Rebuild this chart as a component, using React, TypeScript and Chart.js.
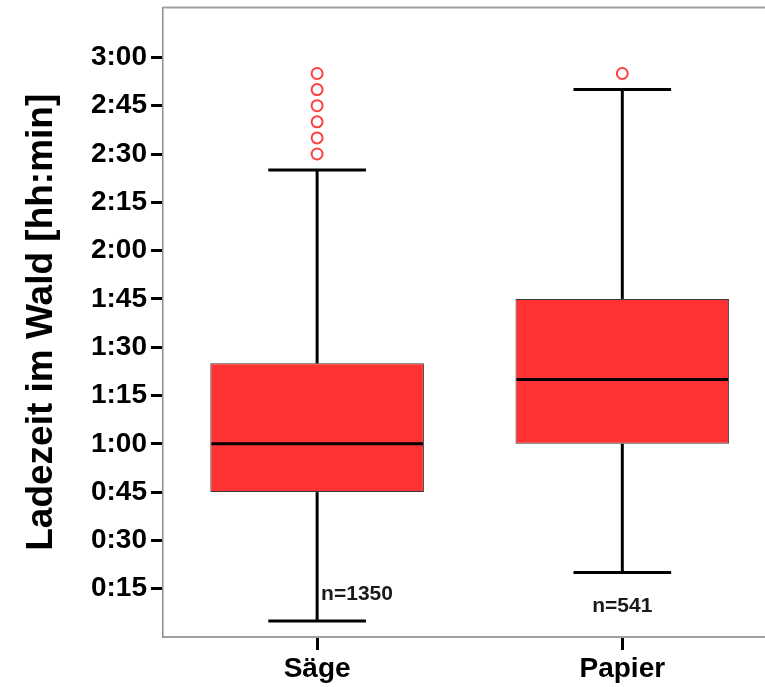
import React, { useEffect, useRef } from 'react';
import { Chart, registerables } from 'chart.js';

Chart.register(...registerables);

const categories = ['Säge', 'Papier'];
const lowerWhisker = [5, 20];
const q1 = [45, 60];
const median = [60, 80];
const q3 = [85, 105];
const upperWhisker = [145, 170];
const outliersSaege = [150, 155, 160, 165, 170, 175];
const outliersPapier = [175];
const sampleSizes = [1350, 541];
const yTickValues = [15, 30, 45, 60, 75, 90, 105, 120, 135, 150, 165, 180];

const FONT = '"Liberation Sans", Arial, Helvetica, sans-serif';

const fmt = (v: number) => `${Math.floor(v / 60)}:${String(Math.round(v % 60)).padStart(2, '0')}`;

const zeroPad = (scale: any) => {
  scale.paddingTop = 0;
  scale.paddingBottom = 0;
  scale.paddingLeft = 0;
  scale.paddingRight = 0;
};

const boxPlugin = {
  id: 'boxExtras',
  afterDatasetsDraw(chart: any) {
    const { ctx, scales, chartArea } = chart;
    const x = scales.x;
    const y = scales.y;
    const meta = chart.getDatasetMeta(0);
    ctx.save();
    ctx.strokeStyle = '#000000';
    ctx.lineWidth = 3;
    ctx.lineCap = 'butt';
    const line = (x1: number, y1: number, x2: number, y2: number) => {
      ctx.beginPath();
      ctx.moveTo(x1, y1);
      ctx.lineTo(x2, y2);
      ctx.stroke();
    };
    categories.forEach((_, i) => {
      const cx = x.getPixelForValue(i);
      const bar = meta.data[i];
      const half = bar ? bar.width / 2 : 100;
      line(cx, y.getPixelForValue(q3[i]), cx, y.getPixelForValue(upperWhisker[i]));
      line(cx, y.getPixelForValue(q1[i]), cx, y.getPixelForValue(lowerWhisker[i]));
      const capHalf = x.getPixelForValue(i + 0.16) - cx;
      line(cx - capHalf, y.getPixelForValue(upperWhisker[i]), cx + capHalf, y.getPixelForValue(upperWhisker[i]));
      line(cx - capHalf, y.getPixelForValue(lowerWhisker[i]), cx + capHalf, y.getPixelForValue(lowerWhisker[i]));
      line(cx - half + 1, y.getPixelForValue(median[i]), cx + half - 1, y.getPixelForValue(median[i]));
    });
    // n labels
    ctx.fillStyle = '#1a1a1a';
    ctx.font = `bold 21px ${FONT}`;
    ctx.textBaseline = 'middle';
    ctx.textAlign = 'left';
    ctx.fillText(`n=${sampleSizes[0]}`, x.getPixelForValue(0) + 4, y.getPixelForValue(13.2));
    ctx.textAlign = 'center';
    ctx.fillText(`n=${sampleSizes[1]}`, x.getPixelForValue(1), y.getPixelForValue(9.6));
    // frame lines (top, and extension of bottom to canvas edge)
    ctx.strokeStyle = '#a0a0a0';
    ctx.lineWidth = 2;
    line(chartArea.left, chartArea.top, chart.width, chartArea.top);
    line(chartArea.right - 2, chartArea.bottom, chart.width, chartArea.bottom);
    ctx.restore();
  },
};

export default function App() {
  const ref = useRef<HTMLCanvasElement>(null);
  useEffect(() => {
    if (!ref.current) return;
    const chart = new Chart(ref.current, {
      type: 'bar',
      data: {
        datasets: [
          {
            type: 'bar',
            data: categories.map((_, i) => ({ x: i, y: [q1[i], q3[i]] })) as any,
            backgroundColor: '#FF3333',
            borderColor: '#3a3a3a',
            borderWidth: 1,
            borderSkipped: false,
            barPercentage: 0.7,
            categoryPercentage: 1,
            order: 2,
          },
          {
            type: 'scatter',
            data: [
              ...outliersSaege.map((v) => ({ x: 0, y: v })),
              ...outliersPapier.map((v) => ({ x: 1, y: v })),
            ] as any,
            pointStyle: 'circle',
            pointRadius: 5.5,
            pointBorderWidth: 2,
            pointBorderColor: '#FF4040',
            pointBackgroundColor: 'rgba(255,255,255,0)',
            showLine: false,
            order: 1,
          },
        ],
      },
      options: {
        animation: false,
        responsive: false,
        devicePixelRatio: 1,
        layout: { padding: { top: 7, left: 0, right: 0, bottom: 0 } },
        plugins: { legend: { display: false }, tooltip: { enabled: false } },
        scales: {
          x: {
            type: 'linear',
            offset: false,
            min: -0.505,
            max: 1.443,
            afterBuildTicks: (scale: any) => {
              scale.ticks = categories.map((_, i) => ({ value: i }));
            },
            afterFit: (scale: any) => {
              scale.height = 50;
              zeroPad(scale);
            },
            ticks: {
              callback: (v: any) => categories[Number(v)] ?? '',
              font: { family: FONT, size: 28, weight: 'bold' },
              color: '#000000',
              padding: 2,
              maxRotation: 0,
              autoSkip: false,
            },
            grid: {
              offset: false,
              drawOnChartArea: false,
              tickLength: 13,
              tickColor: '#000000',
              tickWidth: 3,
            },
            border: { display: true, color: '#a0a0a0', width: 2 },
          },
          y: {
            type: 'linear',
            min: 0,
            max: 195.5,
            afterBuildTicks: (scale: any) => {
              scale.ticks = yTickValues.map((v) => ({ value: v }));
            },
            afterFit: (scale: any) => {
              scale.width = 163;
              zeroPad(scale);
            },
            ticks: {
              callback: (v: any) => fmt(Number(v)),
              font: { family: FONT, size: 28, weight: 'bold' },
              color: '#000000',
              padding: 4,
              autoSkip: false,
            },
            grid: {
              drawOnChartArea: false,
              tickLength: 12,
              tickColor: '#000000',
              tickWidth: 3,
            },
            border: { display: true, color: '#8c8c8c', width: 1.5 },
            title: {
              display: true,
              text: 'Ladezeit im Wald [hh:min]',
              font: { family: FONT, size: 37, weight: 'bold' },
              color: '#000000',
              padding: { top: 20, bottom: 0 },
            },
          },
        },
      } as any,
      plugins: [boxPlugin],
    });
    return () => chart.destroy();
  }, []);
  return (
    <div style={{ position: 'absolute', left: 0, top: 0, width: 765, height: 687, background: '#fff' }}>
      <canvas ref={ref} width={765} height={687} style={{ display: 'block' }} />
    </div>
  );
}
